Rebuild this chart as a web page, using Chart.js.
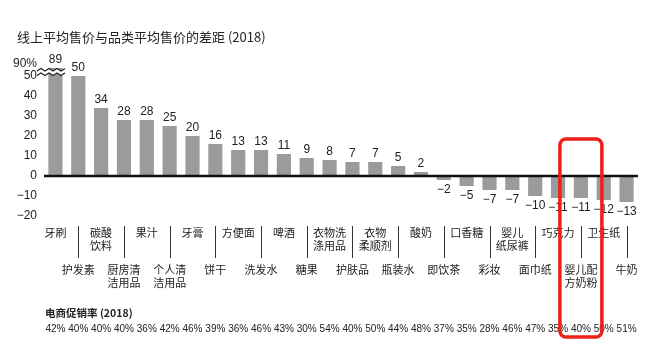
<!DOCTYPE html>
<html>
<head>
<meta charset="utf-8">
<script src="https://cdn.jsdelivr.net/npm/chart.js@4/dist/chart.umd.min.js"></script>
<style>
  html, body { margin: 0; padding: 0; background: #fff; }
  #wrap { width: 669px; height: 349px; position: relative; }
</style>
</head>
<body>
<div id="wrap"><canvas id="gapchart"></canvas></div>
<script>
var chartTitle = '线上平均售价与品类平均售价的差距 (2018)';
var categories = [
  ['牙刷'], ['护发素'], ['碳酸', '饮料'], ['厨房清', '洁用品'], ['果汁'], ['个人清', '洁用品'],
  ['牙膏'], ['饼干'], ['方便面'], ['洗发水'], ['啤酒'], ['糖果'], ['衣物洗', '涤用品'],
  ['护肤品'], ['衣物', '柔顺剂'], ['瓶装水'], ['酸奶'], ['即饮茶'], ['口香糖'], ['彩妆'],
  ['婴儿', '纸尿裤'], ['面巾纸'], ['巧克力'], ['婴儿配', '方奶粉'], ['卫生纸'], ['牛奶']
];
var gapValues = [89, 50, 34, 28, 28, 25, 20, 16, 13, 13, 11, 9, 8, 7, 7, 5, 2, -2, -5, -7, -7, -10, -11, -11, -12, -13];
var promoTitle = '电商促销率 (2018)';
var promoRates = [42, 40, 40, 40, 36, 42, 46, 39, 36, 46, 43, 30, 54, 40, 50, 44, 48, 37, 35, 28, 46, 47, 35, 40, 50, 51];
var yTicks = [-20, -10, 0, 10, 20, 30, 40, 50, 56];
var yTopLabel = '90%';
var highlightIndex = 23;

var AXIS_CAP = 54;
var FONT = '"Liberation Sans", Arial, "Noto Sans CJK SC", sans-serif';
var CJK = '"Noto Sans CJK SC", "Liberation Sans", sans-serif';

function fmt(v) { return v < 0 ? '\u2212' + Math.abs(v) : String(v); }

var overlay = {
  id: 'overlay',
  afterDatasetsDraw: function (chart) {
    var ctx = chart.ctx, x = chart.scales.x, y = chart.scales.y, area = chart.chartArea;
    var meta = chart.getDatasetMeta(0);
    ctx.save();

    // title
    ctx.fillStyle = '#222';
    ctx.font = '13px ' + CJK;
    ctx.textBaseline = 'middle';
    ctx.textAlign = 'left';
    ctx.fillText(chartTitle, 17, 37);

    // zero line
    var y0 = y.getPixelForValue(0);
    ctx.strokeStyle = '#111';
    ctx.lineWidth = 2.5;
    ctx.beginPath();
    ctx.moveTo(area.left, y0);
    ctx.lineTo(area.right, y0);
    ctx.stroke();

    // axis break on first bar
    var yb = y.getPixelForValue(52);
    var bx0 = 37, bx1 = meta.data[0].x + 12;
    function wave(off) {
      var pts = [];
      for (var px = bx0; px <= bx1; px += 4) {
        pts.push([px, yb + off + (((px - bx0) / 4) % 2 ? -1.3 : 1.3)]);
      }
      return pts;
    }
    var w1 = wave(-2.2), w2 = wave(2.2);
    ctx.fillStyle = '#fff';
    ctx.beginPath();
    w1.forEach(function (p, i) { i ? ctx.lineTo(p[0], p[1]) : ctx.moveTo(p[0], p[1]); });
    for (var k = w2.length - 1; k >= 0; k--) ctx.lineTo(w2[k][0], w2[k][1]);
    ctx.closePath();
    ctx.fill();
    ctx.strokeStyle = '#222';
    ctx.lineWidth = 1.2;
    [w1, w2].forEach(function (w) {
      ctx.beginPath();
      w.forEach(function (p, i) { i ? ctx.lineTo(p[0], p[1]) : ctx.moveTo(p[0], p[1]); });
      ctx.stroke();
    });

    // value labels
    ctx.fillStyle = '#222';
    ctx.font = '12px ' + FONT;
    ctx.textAlign = 'center';
    gapValues.forEach(function (v, i) {
      var bar = meta.data[i];
      var ty = v >= 0 ? bar.y - 8 : bar.y + 10;
      ctx.fillText(fmt(v), bar.x, ty);
    });

    // category labels, alternating rows with leader lines
    ctx.font = '11px ' + CJK;
    ctx.strokeStyle = '#333';
    ctx.lineWidth = 1;
    categories.forEach(function (lines, i) {
      var cx = x.getPixelForValue(i);
      var top = i % 2 === 0 ? 233 : 270;
      if (i % 2 === 1) {
        ctx.beginPath();
        ctx.moveTo(Math.round(cx) + 0.5, 226);
        ctx.lineTo(Math.round(cx) + 0.5, 258);
        ctx.stroke();
      }
      lines.forEach(function (t, j) { ctx.fillText(t, cx, top + j * 12.5); });
    });

    // promotion rates
    ctx.textAlign = 'left';
    ctx.font = 'bold 10.5px ' + CJK;
    ctx.fillText(promoTitle, 45, 313);
    ctx.textAlign = 'center';
    ctx.font = '10px ' + FONT;
    promoRates.forEach(function (r, i) {
      ctx.fillText(r + '%', x.getPixelForValue(i), 329);
    });

    // highlight box
    var hx = x.getPixelForValue(highlightIndex);
    ctx.strokeStyle = '#ee2118';
    ctx.lineWidth = 3.5;
    ctx.beginPath();
    ctx.roundRect(hx - 21, 139, 42, 198, 6);
    ctx.stroke();

    ctx.restore();
  }
};

new Chart(document.getElementById('gapchart'), {
  type: 'bar',
  data: {
    labels: categories.map(function (c) { return c.join(''); }),
    datasets: [{
      data: gapValues.map(function (v) { return Math.min(v, AXIS_CAP); }),
      backgroundColor: '#9b9b9e',
      barPercentage: 0.62,
      categoryPercentage: 1
    }]
  },
  options: {
    responsive: true,
    maintainAspectRatio: false,
    animation: false,
    layout: { padding: { top: 64, right: 31, bottom: 133, left: 0 } },
    plugins: { legend: { display: false }, tooltip: { enabled: false } },
    scales: {
      x: { display: false },
      y: {
        min: -20,
        max: 56,
        border: { display: false },
        grid: { display: false, drawTicks: false },
        afterFit: function (s) { s.width = 44; },
        afterBuildTicks: function (s) { s.ticks = yTicks.map(function (v) { return { value: v }; }); },
        ticks: {
          padding: 7,
          color: '#222',
          font: { family: FONT, size: 12 },
          callback: function (v) { return v === 56 ? yTopLabel : fmt(v); }
        }
      }
    }
  },
  plugins: [overlay]
});
</script>
</body>
</html>
